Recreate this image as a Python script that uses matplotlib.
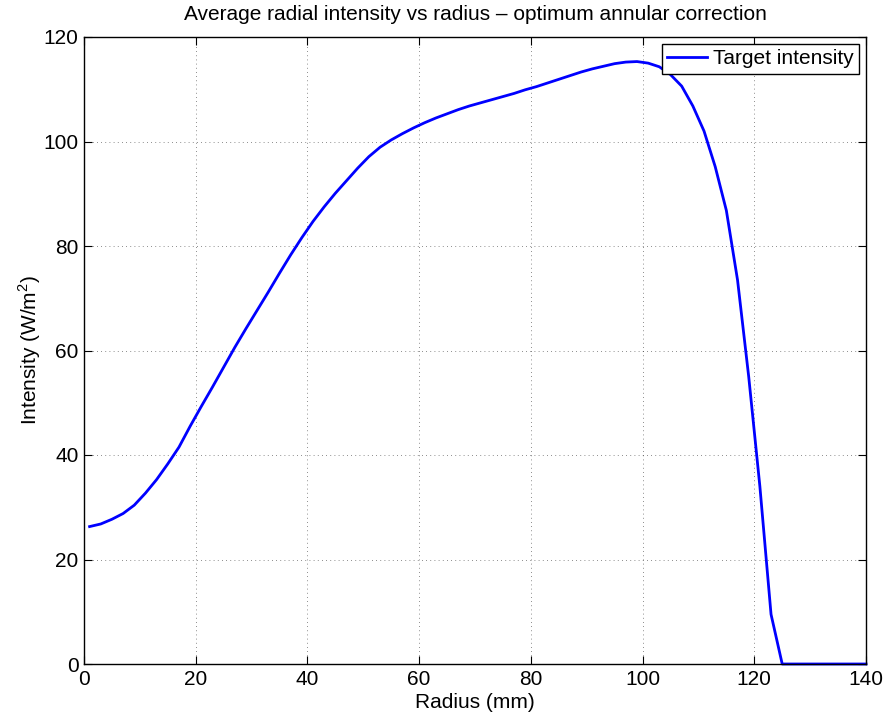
import matplotlib
matplotlib.use("Agg")
import matplotlib.pyplot as plt
import numpy as np

plt.rcParams['font.family'] = ['Liberation Sans', 'DejaVu Sans']
plt.rcParams['mathtext.fontset'] = 'custom'
plt.rcParams['mathtext.rm'] = 'Liberation Sans'

radius = list(range(1, 141, 2)) + [140]
intensity = [
    26.3, 26.8, 27.7, 28.8, 30.4, 32.7, 35.3, 38.3, 41.5, 45.5,
    49.3, 53.0, 56.8, 60.6, 64.2, 67.7, 71.2, 74.8, 78.3, 81.6,
    84.7, 87.5, 90.1, 92.5, 94.9, 97.1, 98.9, 100.3, 101.5, 102.6,
    103.6, 104.5, 105.3, 106.1, 106.8, 107.4, 108.0, 108.6, 109.2, 109.9,
    110.5, 111.2, 111.9, 112.6, 113.3, 113.9, 114.4, 114.9, 115.2, 115.3,
    115.0, 114.3, 112.8, 110.6, 106.8, 102.0, 95.2, 86.8, 73.5, 55.0,
    34.0, 9.5, 0, 0, 0, 0, 0, 0, 0, 0, 0,
]
xticks = [0, 20, 40, 60, 80, 100, 120, 140]
yticks = [0, 20, 40, 60, 80, 100, 120]

fig = plt.figure(figsize=(8.88, 7.23), dpi=100)
ax = fig.add_axes([84/888, 1-664/723, (866-84)/888, (664-37)/723])
ax.plot(radius, intensity, color='#0000ff', lw=2, label='Target intensity', clip_on=False)
ax.set_xlim(0, 140)
ax.set_ylim(0, 120)
ax.set_xticks(xticks)
ax.set_yticks(yticks)
ax.grid(True, linestyle=(0, (1, 4)), color='black', lw=0.6, alpha=0.6)
ax.tick_params(direction='in', top=True, right=True, labelsize=15, length=6, width=0.8, pad=4)
for s in ax.spines.values():
    s.set_linewidth(1.0)
ax.set_xlabel('Radius (mm)', fontsize=15, labelpad=3)
ax.set_ylabel('Intensity (W/m$^2$)', fontsize=15, labelpad=0)
ax.set_title('Average radial intensity vs radius \u2013 optimum annular correction', fontsize=15, pad=12)
leg = ax.legend(loc='upper right', fontsize=15, fancybox=False, edgecolor='black',
                framealpha=1, borderaxespad=0.35, handlelength=1.9, borderpad=0.25, handletextpad=0.3)
leg.get_frame().set_linewidth(1.0)
fig.savefig('out.png', dpi=100)
